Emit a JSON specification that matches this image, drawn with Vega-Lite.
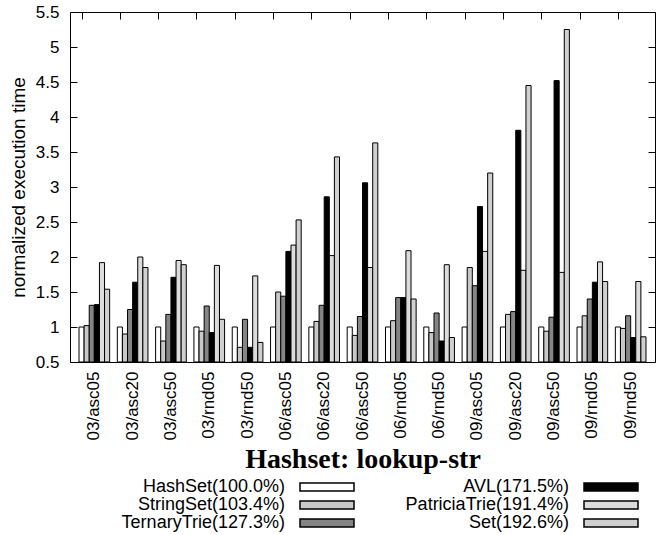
{
  "$schema": "https://vega.github.io/schema/vega-lite/v6.json",
  "width": 585,
  "height": 350,
  "autosize": {"type": "none"},
  "padding": {"left": 70, "top": 12, "right": 10, "bottom": 173},
  "background": "white",
  "config": {
    "view": {"stroke": "black", "strokeWidth": 1},
    "font": "Liberation Sans",
    "axis": {"domain": false, "grid": false, "labelFont": "Liberation Sans", "labelColor": "black", "titleFont": "Liberation Sans", "titleColor": "black", "tickColor": "black", "labelFontSize": 17, "titleFontSize": 19, "titleFontWeight": "normal"}
  },
  "data": {"values": [
    {"g": "03/asc05", "s": "HashSet(100.0%)", "v": 1.0},
    {"g": "03/asc05", "s": "StringSet(103.4%)", "v": 1.02},
    {"g": "03/asc05", "s": "TernaryTrie(127.3%)", "v": 1.31},
    {"g": "03/asc05", "s": "AVL(171.5%)", "v": 1.32},
    {"g": "03/asc05", "s": "PatriciaTrie(191.4%)", "v": 1.92},
    {"g": "03/asc05", "s": "Set(192.6%)", "v": 1.54},
    {"g": "03/asc20", "s": "HashSet(100.0%)", "v": 1.0},
    {"g": "03/asc20", "s": "StringSet(103.4%)", "v": 0.9},
    {"g": "03/asc20", "s": "TernaryTrie(127.3%)", "v": 1.25},
    {"g": "03/asc20", "s": "AVL(171.5%)", "v": 1.64},
    {"g": "03/asc20", "s": "PatriciaTrie(191.4%)", "v": 2.0},
    {"g": "03/asc20", "s": "Set(192.6%)", "v": 1.85},
    {"g": "03/asc50", "s": "HashSet(100.0%)", "v": 1.0},
    {"g": "03/asc50", "s": "StringSet(103.4%)", "v": 0.8},
    {"g": "03/asc50", "s": "TernaryTrie(127.3%)", "v": 1.18},
    {"g": "03/asc50", "s": "AVL(171.5%)", "v": 1.71},
    {"g": "03/asc50", "s": "PatriciaTrie(191.4%)", "v": 1.95},
    {"g": "03/asc50", "s": "Set(192.6%)", "v": 1.89},
    {"g": "03/rnd05", "s": "HashSet(100.0%)", "v": 1.0},
    {"g": "03/rnd05", "s": "StringSet(103.4%)", "v": 0.94},
    {"g": "03/rnd05", "s": "TernaryTrie(127.3%)", "v": 1.3},
    {"g": "03/rnd05", "s": "AVL(171.5%)", "v": 0.92},
    {"g": "03/rnd05", "s": "PatriciaTrie(191.4%)", "v": 1.88},
    {"g": "03/rnd05", "s": "Set(192.6%)", "v": 1.11},
    {"g": "03/rnd50", "s": "HashSet(100.0%)", "v": 1.0},
    {"g": "03/rnd50", "s": "StringSet(103.4%)", "v": 0.71},
    {"g": "03/rnd50", "s": "TernaryTrie(127.3%)", "v": 1.11},
    {"g": "03/rnd50", "s": "AVL(171.5%)", "v": 0.71},
    {"g": "03/rnd50", "s": "PatriciaTrie(191.4%)", "v": 1.73},
    {"g": "03/rnd50", "s": "Set(192.6%)", "v": 0.78},
    {"g": "06/asc05", "s": "HashSet(100.0%)", "v": 1.0},
    {"g": "06/asc05", "s": "StringSet(103.4%)", "v": 1.5},
    {"g": "06/asc05", "s": "TernaryTrie(127.3%)", "v": 1.44},
    {"g": "06/asc05", "s": "AVL(171.5%)", "v": 2.08},
    {"g": "06/asc05", "s": "PatriciaTrie(191.4%)", "v": 2.17},
    {"g": "06/asc05", "s": "Set(192.6%)", "v": 2.53},
    {"g": "06/asc20", "s": "HashSet(100.0%)", "v": 1.0},
    {"g": "06/asc20", "s": "StringSet(103.4%)", "v": 1.08},
    {"g": "06/asc20", "s": "TernaryTrie(127.3%)", "v": 1.31},
    {"g": "06/asc20", "s": "AVL(171.5%)", "v": 2.86},
    {"g": "06/asc20", "s": "PatriciaTrie(191.4%)", "v": 2.02},
    {"g": "06/asc20", "s": "Set(192.6%)", "v": 3.43},
    {"g": "06/asc50", "s": "HashSet(100.0%)", "v": 1.0},
    {"g": "06/asc50", "s": "StringSet(103.4%)", "v": 0.88},
    {"g": "06/asc50", "s": "TernaryTrie(127.3%)", "v": 1.15},
    {"g": "06/asc50", "s": "AVL(171.5%)", "v": 3.06},
    {"g": "06/asc50", "s": "PatriciaTrie(191.4%)", "v": 1.85},
    {"g": "06/asc50", "s": "Set(192.6%)", "v": 3.63},
    {"g": "06/rnd05", "s": "HashSet(100.0%)", "v": 1.0},
    {"g": "06/rnd05", "s": "StringSet(103.4%)", "v": 1.09},
    {"g": "06/rnd05", "s": "TernaryTrie(127.3%)", "v": 1.42},
    {"g": "06/rnd05", "s": "AVL(171.5%)", "v": 1.42},
    {"g": "06/rnd05", "s": "PatriciaTrie(191.4%)", "v": 2.09},
    {"g": "06/rnd05", "s": "Set(192.6%)", "v": 1.4},
    {"g": "06/rnd50", "s": "HashSet(100.0%)", "v": 1.0},
    {"g": "06/rnd50", "s": "StringSet(103.4%)", "v": 0.92},
    {"g": "06/rnd50", "s": "TernaryTrie(127.3%)", "v": 1.2},
    {"g": "06/rnd50", "s": "AVL(171.5%)", "v": 0.8},
    {"g": "06/rnd50", "s": "PatriciaTrie(191.4%)", "v": 1.89},
    {"g": "06/rnd50", "s": "Set(192.6%)", "v": 0.85},
    {"g": "09/asc05", "s": "HashSet(100.0%)", "v": 1.0},
    {"g": "09/asc05", "s": "StringSet(103.4%)", "v": 1.85},
    {"g": "09/asc05", "s": "TernaryTrie(127.3%)", "v": 1.59},
    {"g": "09/asc05", "s": "AVL(171.5%)", "v": 2.72},
    {"g": "09/asc05", "s": "PatriciaTrie(191.4%)", "v": 2.08},
    {"g": "09/asc05", "s": "Set(192.6%)", "v": 3.2},
    {"g": "09/asc20", "s": "HashSet(100.0%)", "v": 1.0},
    {"g": "09/asc20", "s": "StringSet(103.4%)", "v": 1.18},
    {"g": "09/asc20", "s": "TernaryTrie(127.3%)", "v": 1.22},
    {"g": "09/asc20", "s": "AVL(171.5%)", "v": 3.81},
    {"g": "09/asc20", "s": "PatriciaTrie(191.4%)", "v": 1.81},
    {"g": "09/asc20", "s": "Set(192.6%)", "v": 4.45},
    {"g": "09/asc50", "s": "HashSet(100.0%)", "v": 1.0},
    {"g": "09/asc50", "s": "StringSet(103.4%)", "v": 0.94},
    {"g": "09/asc50", "s": "TernaryTrie(127.3%)", "v": 1.14},
    {"g": "09/asc50", "s": "AVL(171.5%)", "v": 4.52},
    {"g": "09/asc50", "s": "PatriciaTrie(191.4%)", "v": 1.78},
    {"g": "09/asc50", "s": "Set(192.6%)", "v": 5.25},
    {"g": "09/rnd05", "s": "HashSet(100.0%)", "v": 1.0},
    {"g": "09/rnd05", "s": "StringSet(103.4%)", "v": 1.16},
    {"g": "09/rnd05", "s": "TernaryTrie(127.3%)", "v": 1.4},
    {"g": "09/rnd05", "s": "AVL(171.5%)", "v": 1.64},
    {"g": "09/rnd05", "s": "PatriciaTrie(191.4%)", "v": 1.93},
    {"g": "09/rnd05", "s": "Set(192.6%)", "v": 1.65},
    {"g": "09/rnd50", "s": "HashSet(100.0%)", "v": 1.0},
    {"g": "09/rnd50", "s": "StringSet(103.4%)", "v": 0.98},
    {"g": "09/rnd50", "s": "TernaryTrie(127.3%)", "v": 1.16},
    {"g": "09/rnd50", "s": "AVL(171.5%)", "v": 0.85},
    {"g": "09/rnd50", "s": "PatriciaTrie(191.4%)", "v": 1.65},
    {"g": "09/rnd50", "s": "Set(192.6%)", "v": 0.86}
  ]},
  "layer": [
    {
      "mark": {"type": "bar", "stroke": "black", "strokeWidth": 1},
      "encoding": {
        "x": {"field": "g", "type": "nominal", "sort": null,
              "scale": {"paddingInner": 0.2, "paddingOuter": 0.235},
              "axis": {"orient": "bottom", "title": "Hashset: lookup-str", "titleFont": "Liberation Serif", "titleFontSize": 28, "titleFontWeight": "bold", "titlePadding": 6, "labelAngle": 270, "ticks": false, "labelPadding": 9}},
        "xOffset": {"field": "s", "type": "nominal",
              "sort": ["HashSet(100.0%)", "StringSet(103.4%)", "TernaryTrie(127.3%)", "AVL(171.5%)", "PatriciaTrie(191.4%)", "Set(192.6%)"],
              "scale": {"paddingInner": 0, "paddingOuter": 0}},
        "y": {"field": "v", "type": "quantitative",
              "scale": {"domain": [0.5, 5.5], "zero": false, "nice": false},
              "axis": {"orient": "left", "title": "normalized execution time", "values": [0.5, 1, 1.5, 2, 2.5, 3, 3.5, 4, 4.5, 5, 5.5], "format": "~g", "tickSize": -7, "labelPadding": 18, "titlePadding": 7}},
        "y2": {"datum": 0.5},
        "color": {"field": "s", "type": "nominal",
          "scale": {
            "domain": ["HashSet(100.0%)", "StringSet(103.4%)", "TernaryTrie(127.3%)", "AVL(171.5%)", "PatriciaTrie(191.4%)", "Set(192.6%)"],
            "range": ["#ffffff", "#c8c8c8", "#858585", "#000000", "#dcdcdc", "#d0d0d0"]
          },
          "legend": {"orient": "none", "legendX": 248, "legendY": 466, "columns": 2, "title": null,
            "symbolType": "M-6.75,-1H6.75V1H-6.75Z", "symbolSize": 64, "symbolOpacity": 1,
            "labelAlign": "right", "labelOffset": -51, "labelFont": "Liberation Sans", "labelFontSize": 18, "labelColor": "black", "labelLimit": 0,
            "columnPadding": 48, "rowPadding": 0, "padding": 0}
        }
      }
    },
    {
      "mark": {"type": "point", "opacity": 0},
      "encoding": {
        "x": {"field": "g", "type": "nominal", "sort": null,
              "axis": {"orient": "top", "labels": false, "title": null, "tickSize": -7, "bandPosition": 0.1}},
        "y": {"field": "v", "type": "quantitative",
              "axis": {"orient": "right", "labels": false, "title": null, "tickSize": -7, "values": [0.5, 1, 1.5, 2, 2.5, 3, 3.5, 4, 4.5, 5, 5.5]}}
      }
    }
  ],
  "resolve": {"axis": {"x": "independent", "y": "independent"}}
}
